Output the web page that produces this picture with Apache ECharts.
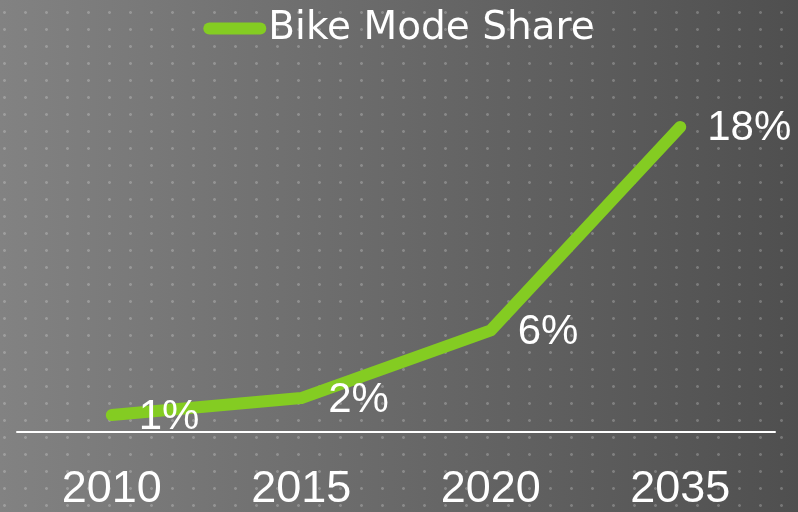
<!DOCTYPE html>
<html>
<head>
<meta charset="utf-8">
<script src="https://cdn.jsdelivr.net/npm/echarts@6/dist/echarts.min.js"></script>
<style>
html, body { margin: 0; padding: 0; }
#chart {
	width: 798px; height: 512px;
	background-image:
		radial-gradient(circle, rgba(255,255,255,0.22) 1.1px, rgba(255,255,255,0) 1.7px),
		linear-gradient(to right, #828282, #4f4f4f);
	background-size: 21px 17px, 100% 100%;
	background-position: -6px 4px, 0 0;
}
</style>
</head>
<body>
<div id="chart"></div>
<script>
// data
var years = ['2010', '2015', '2020', '2035'];
var bikeShare = [1, 2, 6, 18];
var seriesName = 'Bike Mode Share';

var green = '#84cc22';

var chart = echarts.init(document.getElementById('chart'));
chart.setOption({
	backgroundColor: 'transparent',
	animation: false,
	legend: {
		data: [{ name: seriesName, icon: 'path://M6,0 L57,0 A6,6 0 0 1 57,12 L6,12 A6,6 0 0 1 6,0 Z' }],
		left: 'center',
		top: 4,
		itemWidth: 63,
		itemHeight: 12,
		itemGap: 4,
		itemStyle: { color: green },
		textStyle: { color: '#fff', fontSize: 39, fontFamily: 'DejaVu Sans', padding: [0, 0, 0, -3] }
	},
	grid: { left: 17, right: 23, top: 93, bottom: 79 },
	xAxis: {
		type: 'category',
		data: years,
		boundaryGap: true,
		axisLine: { lineStyle: { color: '#fff', width: 2 } },
		axisTick: { show: false },
		axisLabel: { color: '#fff', fontSize: 45, fontFamily: 'Liberation Sans', margin: 35 }
	},
	yAxis: {
		type: 'value',
		min: 0,
		max: 20,
		show: false,
		splitLine: { show: false }
	},
	series: [{
		name: seriesName,
		type: 'line',
		data: bikeShare,
		symbol: 'circle',
		symbolSize: 2,
		lineStyle: { color: green, width: 12, cap: 'round', join: 'round' },
		itemStyle: { color: green },
		label: {
			show: true,
			position: 'right',
			distance: 26,
			offset: [0, 2],
			color: '#fff',
			fontSize: 42,
			fontFamily: 'Liberation Sans',
			formatter: '{c}%'
		}
	}]
});
</script>
</body>
</html>
